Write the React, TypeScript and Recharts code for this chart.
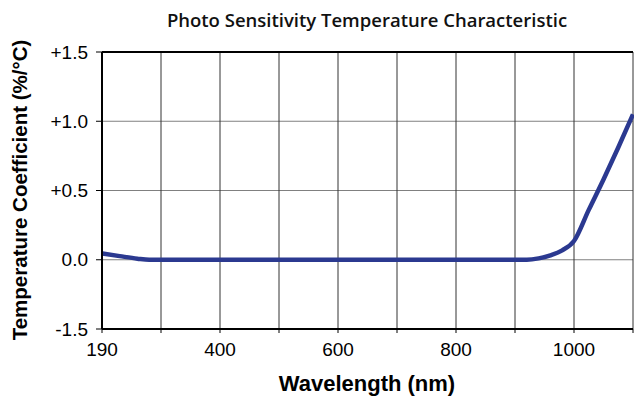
import React from 'react';
import { LineChart, Line, XAxis, YAxis, CartesianGrid, ReferenceLine } from 'recharts';

// wavelength (nm); the first point sits at the axis start, printed as "190" on the original sheet
const wavelengths = [200, 230, 260, 280, 300, 400, 500, 600, 700, 800, 900, 920, 940, 960, 980, 1000, 1025, 1050, 1075, 1100];
// temperature coefficient (%/°C)
const coefficients = [0.045, 0.026, 0.008, 0, 0, 0, 0, 0, 0, 0, 0, 0, 0.01, 0.032, 0.068, 0.135, 0.36, 0.58, 0.81, 1.05];

const xTicks = [200, 300, 400, 500, 600, 700, 800, 900, 1000, 1100];
const xTickLabels: Record<number, string> = { 200: '190', 400: '400', 600: '600', 800: '800', 1000: '1000' };
const yTicks = [-0.5, 0, 0.5, 1, 1.5];
const yTickLabels: Record<string, string> = { '-0.5': '-1.5', '0': '0.0', '0.5': '+0.5', '1': '+1.0', '1.5': '+1.5' };

const data = wavelengths.map((wl, i) => ({ wl, coef: coefficients[i] }));

const axisFont = '"Liberation Sans", Arial, sans-serif';

export default function App() {
  return (
    <div style={{ position: 'absolute', left: 0, top: 0, width: 634, height: 398, background: '#fff' }}>
      <LineChart width={634} height={398} data={data} margin={{ top: 52, right: 1, bottom: 39, left: 0 }}>
        <CartesianGrid vertical={false} stroke="#808080" strokeWidth={1.2} />
        <CartesianGrid horizontal={false} stroke="#333" strokeWidth={1} />
        <XAxis
          type="number"
          dataKey="wl"
          domain={[200, 1100]}
          ticks={xTicks}
          height={30}
          tickFormatter={(v: number) => xTickLabels[v] ?? ''}
          axisLine={{ stroke: '#000', strokeWidth: 2 }}
          tickLine={{ stroke: '#000' }}
          tickSize={4}
          tickMargin={10}
          tick={{ fill: '#000', fontSize: 19, fontFamily: axisFont }}
          interval={0}
        />
        <YAxis
          type="number"
          domain={[-0.5, 1.5]}
          ticks={yTicks}
          width={102}
          tickFormatter={(v: number) => yTickLabels[String(v)] ?? ''}
          axisLine={{ stroke: '#000', strokeWidth: 2 }}
          tickLine={{ stroke: '#000' }}
          tickSize={6}
          tickMargin={8}
          tick={{ fill: '#000', fontSize: 19, fontFamily: axisFont }}
          interval={0}
        />
        <ReferenceLine y={1.5} stroke="#000" strokeWidth={2} />
        <Line
          type="monotone"
          dataKey="coef"
          stroke="#2b3990"
          strokeWidth={4.5}
          dot={false}
          isAnimationActive={false}
        />
      </LineChart>
      <svg width={634} height={398} style={{ position: 'absolute', left: 0, top: 0, pointerEvents: 'none' }}>
        <text x={367} y={27} textAnchor="middle" fontFamily='"Open Sans", "Noto Sans", sans-serif' fontWeight={600} fontSize={18.5} fill="#111">
          Photo Sensitivity Temperature Characteristic
        </text>
        <text x={367} y={391} textAnchor="middle" fontFamily={axisFont} fontWeight={700} fontSize={22} fill="#000">
          Wavelength (nm)
        </text>
        <text
          transform="translate(27 190) rotate(-90)"
          textAnchor="middle"
          fontFamily={axisFont}
          fontWeight={700}
          fontSize={20.5}
          fill="#000"
        >
          Temperature Coefficient (%/°C)
        </text>
      </svg>
    </div>
  );
}
